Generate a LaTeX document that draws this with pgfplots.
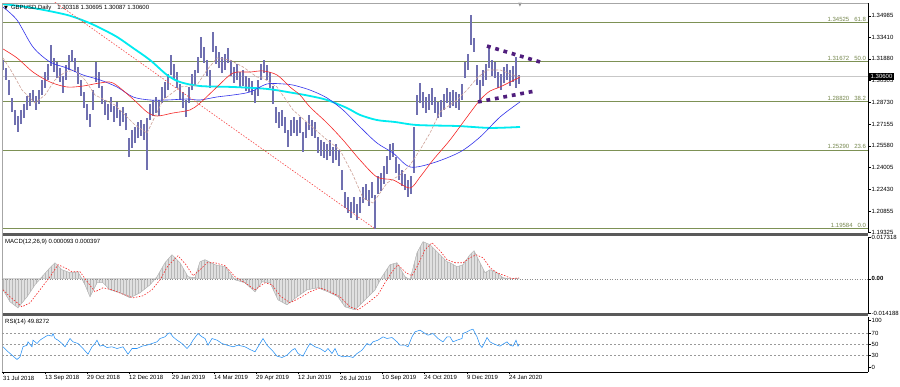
\documentclass[border=0pt]{standalone}
\usepackage{pgfplots}
\pgfplotsset{compat=1.18}
\usepackage{pgfplotstable}
\usetikzlibrary{patterns}
\usepackage{fontspec}
\setmainfont{Liberation Sans}
\newfontfamily\dejavu{DejaVu Sans}
\definecolor{barcol}{RGB}{112,112,176}
\definecolor{fibcol}{RGB}{125,145,85}
\definecolor{fibtxt}{RGB}{118,135,78}
\definecolor{cyanma}{RGB}{0,235,240}
\definecolor{bluema}{RGB}{50,50,235}
\definecolor{redma}{RGB}{245,40,40}
\definecolor{tanma}{RGB}{205,160,150}
\definecolor{purp}{RGB}{80,30,125}
\definecolor{rsicol}{RGB}{40,145,245}
\definecolor{sepcol}{RGB}{90,90,90}

\pgfplotstableread{
x h l
3 1.3179 1.3107
6 1.3121 1.3035
9 1.3035 1.2926
12 1.2905 1.2803
15 1.2818 1.2709
18 1.2774 1.2659
21 1.2818 1.2716
24 1.2861 1.2760
27 1.2919 1.2818
30 1.2941 1.2847
33 1.2962 1.2876
36 1.2919 1.2818
39 1.2962 1.2861
42 1.3035 1.2926
45 1.3092 1.2977
48 1.3150 1.3035
51 1.3288 1.3136
54 1.3194 1.3092
57 1.3165 1.3049
60 1.3121 1.3020
63 1.3064 1.2941
66 1.3143 1.3035
69 1.3215 1.3107
72 1.3252 1.3165
75 1.3194 1.3092
78 1.3129 1.3006
81 1.3035 1.2919
84 1.2948 1.2832
87 1.2861 1.2745
90 1.2789 1.2695
93 1.2962 1.2818
96 1.3165 1.3020
99 1.3092 1.2977
102 1.2991 1.2861
105 1.2890 1.2782
108 1.2861 1.2745
111 1.2912 1.2803
114 1.2847 1.2731
117 1.2876 1.2760
120 1.2818 1.2702
123 1.2839 1.2731
126 1.2796 1.2673
129 1.2615 1.2478
132 1.2673 1.2543
135 1.2695 1.2579
138 1.2731 1.2615
141 1.2745 1.2630
144 1.2716 1.2601
147 1.2760 1.2384
150 1.2861 1.2745
153 1.2890 1.2774
156 1.2912 1.2796
159 1.2890 1.2774
162 1.2984 1.2868
165 1.3020 1.2905
168 1.3078 1.2962
171 1.3215 1.3071
174 1.3150 1.3035
177 1.3092 1.2977
180 1.3006 1.2890
183 1.2948 1.2832
186 1.2890 1.2767
189 1.2984 1.2868
192 1.3078 1.2962
195 1.3107 1.2991
198 1.3201 1.3085
201 1.3346 1.3194
204 1.3273 1.3158
207 1.3179 1.3064
210 1.3107 1.2977
213 1.3382 1.3237
216 1.3280 1.3150
219 1.3237 1.3121
222 1.3201 1.3085
225 1.3223 1.3107
228 1.3266 1.3158
231 1.3179 1.3064
234 1.3129 1.3013
237 1.3150 1.3035
240 1.3092 1.2977
243 1.3107 1.2991
246 1.3064 1.2955
249 1.3049 1.2948
252 1.3027 1.2926
255 1.2962 1.2868
258 1.3035 1.2919
261 1.3150 1.3035
264 1.3179 1.3085
267 1.3143 1.3035
270 1.3092 1.2977
273 1.2991 1.2861
276 1.2839 1.2724
279 1.2803 1.2688
282 1.2818 1.2702
285 1.2767 1.2651
288 1.2673 1.2550
291 1.2745 1.2630
294 1.2767 1.2651
297 1.2745 1.2630
300 1.2767 1.2651
303 1.2659 1.2514
306 1.2731 1.2615
309 1.2782 1.2673
312 1.2745 1.2630
315 1.2731 1.2615
318 1.2622 1.2507
321 1.2601 1.2485
324 1.2586 1.2471
327 1.2572 1.2456
330 1.2601 1.2485
333 1.2550 1.2435
336 1.2572 1.2456
339 1.2529 1.2413
342 1.2384 1.2239
345 1.2225 1.2109
348 1.2189 1.2073
351 1.2153 1.2037
354 1.2189 1.2073
357 1.2138 1.2022
360 1.2189 1.2073
363 1.2261 1.2145
366 1.2283 1.2167
369 1.2239 1.2124
372 1.2297 1.2181
375 1.2203 1.1957
378 1.2341 1.2210
381 1.2362 1.2232
384 1.2413 1.2283
387 1.2485 1.2355
390 1.2572 1.2456
393 1.2579 1.2478
396 1.2478 1.2362
399 1.2427 1.2312
402 1.2384 1.2268
405 1.2355 1.2239
408 1.2312 1.2189
411 1.2341 1.2210
414 1.2695 1.2362
417 1.2926 1.2782
420 1.3013 1.2868
423 1.2948 1.2832
426 1.2912 1.2796
429 1.2933 1.2818
432 1.2977 1.2854
435 1.2912 1.2796
438 1.2876 1.2760
441 1.2890 1.2767
444 1.2933 1.2818
447 1.2977 1.2868
450 1.2948 1.2832
453 1.2962 1.2847
456 1.2948 1.2832
459 1.2933 1.2818
462 1.3006 1.2890
465 1.3165 1.3049
468 1.3223 1.3107
471 1.3505 1.3288
474 1.3338 1.3237
477 1.3143 1.2998
480 1.3035 1.2890
483 1.3107 1.2991
486 1.3150 1.3035
489 1.3273 1.3121
492 1.3179 1.3064
495 1.3165 1.3049
498 1.3092 1.2977
501 1.3078 1.2962
504 1.3129 1.3013
507 1.3150 1.3035
510 1.3107 1.2991
513 1.3136 1.3020
516 1.3201 1.2977
519 1.3070 1.3009
}\bars

\pgfplotstableread{
x v
3 -0.00457
10 -0.00955
18 -0.01204
27 -0.00747
35 -0.00249
42 0.00083
50 0.00457
55 0.00664
62 0.00374
70 0.00249
78 0.00291
85 -0.00249
90 -0.00747
97 -0.00166
103 -0.00166
110 -0.00457
120 -0.00581
130 -0.00789
140 -0.00581
150 -0.00249
157 0.00083
165 0.00664
172 0.00996
180 0.00664
188 0.00083
195 0.00042
200 0.00706
205 0.00789
215 0.00581
225 0.00498
235 -0.00042
245 -0.00166
255 -0.00540
262 -0.00125
270 -0.00166
278 -0.00872
287 -0.01079
297 -0.00747
307 -0.00457
318 -0.00374
328 -0.00540
338 -0.00747
345 -0.01162
355 -0.01287
365 -0.00872
375 -0.00457
382 0.00083
390 0.00581
397 0.00664
405 0.00083
410 -0.00042
417 0.01079
423 0.01536
430 0.01411
440 0.00996
447 0.00706
450 0.00664
457 0.00498
463 0.00581
470 0.00996
474 0.01162
480 0.00664
485 0.00249
490 0.00374
497 0.00249
503 0.00042
510 0.00000
519 0.00009
}\macdhist

\pgfplotstableread{
x s
3 -0.00457
10 -0.00747
22 -0.01162
30 -0.00996
40 -0.00457
50 0.00083
58 0.00581
65 0.00457
72 0.00291
80 0.00291
88 -0.00166
95 -0.00540
103 -0.00374
112 -0.00457
122 -0.00623
133 -0.00789
143 -0.00706
152 -0.00457
160 -0.00042
168 0.00540
178 0.00955
186 0.00581
193 0.00125
200 0.00374
207 0.00664
215 0.00664
225 0.00540
235 0.00083
245 -0.00166
255 -0.00457
265 -0.00166
272 -0.00249
280 -0.00706
290 -0.00996
300 -0.00789
310 -0.00540
320 -0.00374
330 -0.00540
340 -0.00747
350 -0.01162
358 -0.01287
368 -0.00996
378 -0.00664
385 -0.00166
392 0.00291
398 0.00581
406 0.00249
412 0.00125
418 0.00581
425 0.01204
432 0.01494
440 0.01162
447 0.00789
455 0.00664
463 0.00664
470 0.00872
476 0.00996
483 0.00872
490 0.00457
497 0.00249
505 0.00125
512 0.00000
519 0.00040
}\macdsig

\pgfplotstableread{
x r
3 45.8
7 38.5
12 30.6
17 22.7
20 27.6
23 45.8
27 48.8
28 54.8
32 45.8
33 57.9
37 51.8
40 57.9
45 63.9
48 67.0
52 65.2
53 70.0
55 60.9
58 57.9
62 51.8
65 45.8
70 60.9
73 54.8
78 51.8
83 42.7
88 32.4
92 45.8
95 51.8
97 57.9
100 47.0
103 48.8
107 44.5
112 45.8
117 42.7
123 45.8
128 32.4
132 42.7
137 42.7
142 47.0
147 48.8
152 51.8
157 54.8
160 60.9
165 63.9
168 70.0
170 71.2
173 63.9
177 57.9
182 51.8
187 42.7
190 48.8
193 57.9
198 70.0
202 63.9
205 60.9
208 48.8
212 60.9
217 57.9
222 51.8
227 48.8
233 45.8
238 48.8
245 45.8
250 40.9
255 36.7
260 51.8
263 60.9
267 48.8
272 39.7
277 28.8
282 26.4
287 30.6
292 39.7
295 42.7
298 33.6
303 28.8
307 42.7
310 51.8
315 45.8
320 42.7
325 36.7
328 42.7
332 33.6
335 42.7
338 30.6
343 27.6
348 28.8
353 26.4
357 33.6
362 39.7
367 51.8
370 48.8
373 54.8
378 57.9
383 63.9
387 60.9
392 62.7
397 54.8
400 48.8
405 48.8
408 45.8
412 63.9
415 73.0
420 76.1
425 70.0
428 67.0
433 70.0
438 60.9
443 54.8
447 63.9
450 63.9
453 54.8
457 57.9
462 60.9
463 70.0
467 73.0
470 76.1
473 77.9
477 63.9
480 48.8
482 44.5
485 54.8
487 62.7
490 54.8
493 51.8
497 48.8
500 47.0
503 50.6
507 54.8
510 48.8
513 47.0
516 57.9
518 47.0
519 49.8
}\rsi

\pgfplotsset{
  mt/.style={scale only axis, width=866pt, xmin=2, xmax=868,
    axis y line*=right,
    axis line style={-, black, line width=0.5pt},
    tick align=outside, major tick length=2.5pt,
    tick style={black, line width=0.4pt},
    yticklabel style={font=\fontsize{6}{7}\selectfont, inner sep=1pt, text=black},
    clip mode=individual, scaled y ticks=false}
}
\tikzset{
  lab/.style={font=\fontsize{6}{7}\selectfont, inner sep=0pt, anchor=west},
  fibl/.style={anchor=south east, text=fibtxt, font=\fontsize{6}{7}\selectfont, inner sep=0.8pt}
}

\begin{document}
\begin{tikzpicture}
\useasboundingbox (0,0) rectangle (900pt,387pt);
\fill[white] (0,0) rectangle (900pt,387pt);

% ---------------- price pane ----------------
\begin{axis}[mt, axis x line=none, xtick=\empty, at={(2pt,154pt)}, anchor=south west, height=230pt,
  ymin=1.19284, ymax=1.35913,
  ytick={1.34985,1.33410,1.31880,1.30305,1.28730,1.27155,1.25580,1.24005,1.22430,1.20855,1.19325},
  yticklabels={1.34985,1.33410,1.31880,1.30305,1.28730,1.27155,1.25580,1.24005,1.22430,1.20855,1.19325}]
\addplot[fibcol, line width=0.8pt] coordinates {(2,1.34525) (868,1.34525)};
\addplot[fibcol, line width=0.8pt] coordinates {(2,1.31672) (868,1.31672)};
\addplot[fibcol, line width=0.8pt] coordinates {(2,1.28820) (868,1.28820)};
\addplot[fibcol, line width=0.8pt] coordinates {(2,1.25290) (868,1.25290)};
\addplot[fibcol, line width=0.8pt] coordinates {(2,1.19584) (868,1.19584)};
\addplot[black!22, line width=0.6pt] coordinates {(2,1.30600) (868,1.30600)};

\addplot[draw=none, mark=none, error bars/.cd, y dir=plus, y explicit, error mark=none,
  error bar style={draw=barcol, line width=1.7pt}]
  table[x=x, y=l, y error plus expr=\thisrow{h}-\thisrow{l}] {\bars};

\addplot[cyanma, line width=1.8pt, smooth] coordinates {
(3,1.3584) (33,1.3555) (67,1.3505) (87,1.3454) (100,1.3411) (117,1.3346) (133,1.3266)
(150,1.3179) (167,1.3071) (180,1.3020) (200,1.2991) (233,1.2984) (267,1.2970) (293,1.2941)
(310,1.2919) (327,1.2890) (347,1.2832) (360,1.2782) (377,1.2745) (395,1.2731) (417,1.2709)
(457,1.2702) (490,1.2688) (520,1.2695)};
\addplot[bluema, line width=0.6pt, smooth] coordinates {
(3,1.3562) (17,1.3468) (33,1.3273) (50,1.3165) (67,1.3121) (83,1.3071) (100,1.3035)
(117,1.2984) (133,1.2912) (150,1.2890) (167,1.2890) (187,1.2897) (200,1.2890) (217,1.2912)
(233,1.2926) (250,1.2948) (267,1.3006) (283,1.3006) (293,1.2998) (310,1.2962) (327,1.2905)
(343,1.2818) (360,1.2695) (377,1.2579) (393,1.2507) (410,1.2406) (433,1.2435) (460,1.2514)
(480,1.2622) (500,1.2767) (520,1.2876)};
\addplot[redma, line width=0.6pt, smooth] coordinates {
(3,1.3259) (17,1.3194) (33,1.3092) (50,1.3020) (67,1.2984) (83,1.2991) (100,1.3013)
(113,1.3013) (133,1.2897) (147,1.2803) (157,1.2774) (173,1.2796) (190,1.2818) (200,1.2868)
(217,1.2984) (233,1.3085) (250,1.3092) (263,1.3100) (277,1.3071) (290,1.2984) (300,1.2926)
(310,1.2839) (327,1.2724) (343,1.2601) (360,1.2456) (377,1.2333) (393,1.2312) (410,1.2254)
(420,1.2333) (433,1.2456) (450,1.2601) (467,1.2767) (480,1.2890) (490,1.2955) (500,1.2984)
(520,1.3056)};
\addplot[tanma, line width=0.6pt, dash pattern=on 3pt off 1.5pt] coordinates {
(3,1.3194) (12,1.3092) (22,1.2962) (35,1.2868) (45,1.2926) (55,1.3035) (65,1.3092)
(75,1.3107) (85,1.3035) (95,1.2926) (105,1.2890) (115,1.2854) (125,1.2782) (135,1.2709)
(147,1.2651) (163,1.2890) (180,1.2984) (197,1.2998) (207,1.3107) (217,1.3194) (230,1.3179)
(243,1.3129) (257,1.3056) (263,1.3049) (277,1.2984) (293,1.2818) (310,1.2709) (327,1.2601)
(340,1.2529) (353,1.2348) (363,1.2181) (373,1.2145) (387,1.2290) (400,1.2348) (410,1.2420)
(420,1.2529) (430,1.2651) (440,1.2803) (457,1.2890) (467,1.2962) (477,1.3049) (487,1.3107)
(500,1.3107) (513,1.3071) (520,1.3056)};
\addplot[redma!85, line width=0.6pt, dash pattern=on 1.5pt off 1.5pt] coordinates {(-97,1.4376) (375,1.19584)};
\addplot[purp, line width=3.6pt, dash pattern=on 3.8pt off 4.8pt] coordinates {(487,1.3280) (540,1.3165)};
\addplot[purp, line width=3.6pt, dash pattern=on 3.8pt off 4.8pt] coordinates {(478,1.2876) (535,1.2955)};

\node[fibl] at (axis cs:867,1.34525) {1.34525\hspace{5pt}61.8};
\node[fibl] at (axis cs:867,1.31672) {1.31672\hspace{5pt}50.0};
\node[fibl] at (axis cs:867,1.28820) {1.28820\hspace{5pt}38.2};
\node[fibl] at (axis cs:867,1.25290) {1.25290\hspace{5pt}23.6};
\node[fibl] at (axis cs:867,1.19584) {1.19584\hspace{5pt}0.0};
\node[anchor=west, fill=black, text=white, font=\fontsize{6}{7}\selectfont, inner xsep=2pt, inner ysep=1.5pt] at (axis cs:868.5,1.30620) {1.30600};
\node[lab] at (axis cs:4,1.3555) {{\dejavu\fontsize{5}{6}\selectfont ▼}\hspace{3pt}GBPUSD,Daily\hspace{6pt}1.30318 1.30695 1.30087 1.30600};
\node[anchor=north, inner sep=0pt, text=black!45, font=\dejavu\fontsize{5}{6}\selectfont] at (axis cs:520,1.35913) {▼};
\end{axis}

% separators and frame
\fill[sepcol] (2pt,150.5pt) rectangle (868pt,154pt);
\fill[sepcol] (2pt,70.5pt) rectangle (868pt,74pt);
\draw[black!35, line width=0.6pt] (2pt,15pt) -- (2pt,384pt) -- (868pt,384pt);

% ---------------- MACD pane ----------------
\begin{axis}[mt, axis x line=none, xtick=\empty, at={(2pt,74pt)}, anchor=south west, height=76pt,
  ymin=-0.014188, ymax=0.017318,
  ytick={0.017318,0,-0.014188}, yticklabels={0.017318,\textbf{0.00},-0.014188}]
\addplot[fill=black!12, draw=black!28, line width=0.3pt, postaction={pattern=vertical lines, pattern color=black!28}] table[x=x, y=v] {\macdhist} \closedcycle;
\addplot[black!45, line width=0.5pt, dash pattern=on 1pt off 1.5pt] coordinates {(2,0) (868,0)};
\addplot[redma, line width=0.6pt, dash pattern=on 1.5pt off 1.5pt] table[x=x, y=s] {\macdsig};
\node[lab] at (axis cs:5,0.0153) {MACD(12,26,9) 0.000093 0.000397};
\end{axis}

% ---------------- RSI pane ----------------
\begin{axis}[mt, at={(2pt,15pt)}, anchor=south west, height=55pt,
  ymin=0, ymax=100,
  ytick={94,70,50,30,9}, yticklabels={100,70,50,30,0},
  axis x line*=bottom,
  xtick={3,45,87,129,172,214,256,298,340,382,424,467,509},
  xticklabels={31 Jul 2018,13 Sep 2018,29 Oct 2018,12 Dec 2018,29 Jan 2019,14 Mar 2019,29 Apr 2019,12 Jun 2019,26 Jul 2019,10 Sep 2019,24 Oct 2019,9 Dec 2019,24 Jan 2020},
  xticklabel style={anchor=north west, font=\fontsize{6}{7}\selectfont, inner sep=1pt, xshift=-1pt, text=black}]
\addplot[black!40, line width=0.4pt, dash pattern=on 2pt off 2pt] coordinates {(2,70) (868,70)};
\addplot[black!40, line width=0.4pt, dash pattern=on 2pt off 2pt] coordinates {(2,50) (868,50)};
\addplot[black!40, line width=0.4pt, dash pattern=on 2pt off 2pt] coordinates {(2,30) (868,30)};
\addplot[rsicol, line width=0.55pt] table[x=x, y=r] {\rsi};
\node[lab] at (axis cs:5,90.9) {RSI(14) 49.8272};
\end{axis}
\end{tikzpicture}
\end{document}
